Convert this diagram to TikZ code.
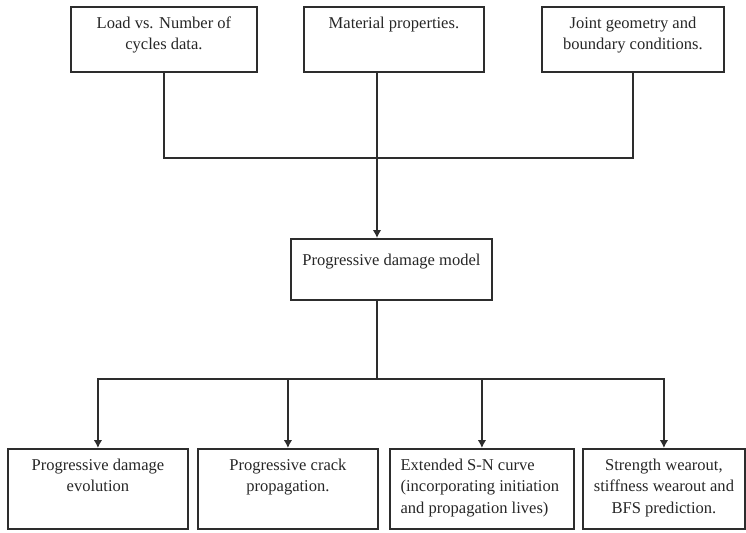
\documentclass[tikz,border=0pt]{standalone}
\usepackage{fontspec}
\setmainfont{Liberation Serif}
\usepackage{xcolor}
\definecolor{linegray}{RGB}{45,45,45}
\usetikzlibrary{arrows.meta}

\begin{document}
\begin{tikzpicture}[x=0.75pt,y=-0.75pt]
  \tikzstyle{blk}=[rectangle,draw=linegray,line width=1.4pt,anchor=north west,inner sep=0pt]
  \tikzstyle{txt}=[anchor=north,align=center,inner sep=0pt,text=black!85,font=\fontsize{12.4}{16}\selectfont]
  \tikzstyle{link}=[draw=linegray,line width=1.3pt]
  \tikzstyle{arr}=[link,-{Latex[length=6pt,width=6.5pt]}]
  \useasboundingbox (0,0) rectangle (746,532);
  % inputs
  \node[blk,minimum width=139.5pt,minimum height=48.75pt] (in1) at (70,6) {};
  \node[blk,minimum width=135pt,minimum height=48.75pt] (in2) at (303,6) {};
  \node[blk,minimum width=136.5pt,minimum height=48.75pt] (in3) at (541,6) {};
  \node[txt] (in1t) at ([yshift=-8pt]in1.north) {Load vs. Number of\\cycles data.};
  \node[txt] (in2t) at ([yshift=-8pt]in2.north) {Material properties.};
  \node[txt] (in3t) at ([yshift=-8pt]in3.north) {Joint geometry and\\boundary conditions.};
  % model
  \node[blk,minimum width=150.75pt,minimum height=45.75pt] (mid) at (290,238) {};
  \node[txt] (midt) at ([yshift=-12pt]mid.north) {Progressive damage model};
  % outputs
  \node[blk,minimum width=135pt,minimum height=60pt] (out1) at (7,448) {};
  \node[blk,minimum width=135pt,minimum height=60pt] (out2) at (197,448) {};
  \node[blk,minimum width=138pt,minimum height=60pt] (out3) at (389,448) {};
  \node[blk,minimum width=121.5pt,minimum height=60pt] (out4) at (582,448) {};
  \node[txt] (out1t) at ([yshift=-8pt]out1.north) {Progressive damage\\evolution};
  \node[txt] (out2t) at ([yshift=-8pt]out2.north) {Progressive crack\\propagation.};
  \node[txt,anchor=north west,align=left] (out3t) at ([xshift=8.5pt,yshift=-8pt]out3.north west) {Extended S-N curve\\(incorporating initiation\\and propagation lives)};
  \node[txt] (out4t) at ([yshift=-8pt]out4.north) {Strength wearout,\\stiffness wearout and\\BFS prediction.};
  % connectors
  \coordinate (j1) at (377,158);
  \coordinate (j2) at (377,379);
  \draw[link] (in1.south) |- (j1) -| (in3.south);
  \draw[arr] (in2.south -| j1) -- (mid.north -| j1);
  \draw[link] (mid.south -| j2) -- (j2);
  \foreach \o in {out1,out2,out3,out4}
    \draw[arr] (j2) -| (\o.north);
\end{tikzpicture}
\end{document}
